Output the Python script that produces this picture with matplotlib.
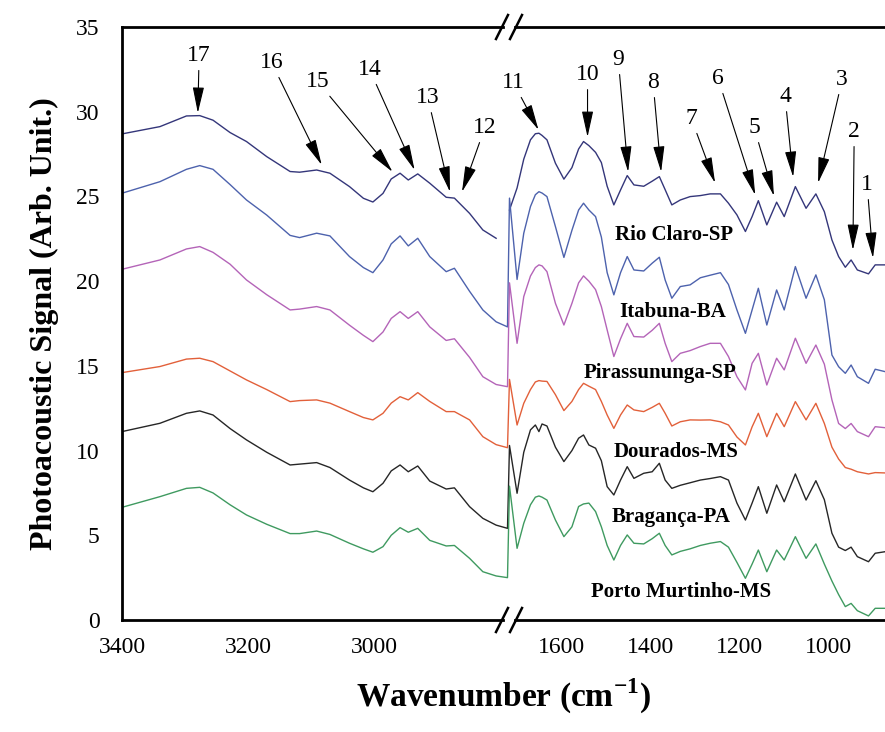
import matplotlib
matplotlib.use("Agg")
import matplotlib.pyplot as plt
import numpy as np
from matplotlib.patches import ArrowStyle

plt.rcParams["font.family"] = "Liberation Serif"
plt.rcParams["mathtext.fontset"] = "custom"
plt.rcParams["mathtext.rm"] = "Liberation Serif"
plt.rcParams["mathtext.bf"] = "Liberation Serif:bold"

# wavenumbers (cm-1): high region, then fingerprint region after the axis break
wn_high = [3400, 3340, 3298, 3277, 3256, 3229, 3203, 3171, 3134, 3119, 3092, 3071, 3040,
           3018, 3003, 2987, 2974, 2960, 2947, 2932, 2913, 2887, 2874, 2850, 2829, 2808, 2790]
wn_low = [1716, 1699, 1684, 1669, 1658, 1650, 1643, 1632, 1613, 1594, 1576, 1561, 1550, 1538,
          1523, 1510, 1497, 1482, 1467, 1452, 1437, 1415, 1396, 1380, 1367, 1352, 1333, 1311,
          1288, 1266, 1243, 1225, 1206, 1187, 1172, 1158, 1139, 1117, 1100, 1075, 1051, 1029,
          1010, 993, 978, 963, 950, 936, 911, 896, 874]

rio_claro_high = [28.69, 29.12, 29.75, 29.77, 29.5, 28.77, 28.24, 27.35, 26.47, 26.43, 26.56, 26.37, 25.58,
                  24.89, 24.67, 25.18, 26.03, 26.37, 25.97, 26.33, 25.78, 24.95, 24.9, 24.0, 23.02, 22.53, np.nan]
rio_claro_low = [24.2, 25.5, 27.2, 28.34, 28.7, 28.73, 28.6, 28.34, 26.96, 26.02, 26.7, 27.8, 28.24, 28.0,
                 27.6, 27.0, 25.6, 24.5, 25.38, 26.23, 25.68, 25.6, 25.9, 26.17, 25.4, 24.5, 24.79, 24.99,
                 25.05, 25.15, 25.15, 24.6, 23.91, 22.93, 23.81, 24.75, 23.32, 24.66, 23.81, 25.58, 24.3, 25.15,
                 24.1, 22.43, 21.45, 20.82, 21.25, 20.66, 20.43, 20.96, 20.96]

itabuna_high = [25.19, 25.87, 26.6, 26.82, 26.6, 25.7, 24.79, 23.9, 22.7, 22.57, 22.83, 22.67, 21.45,
                20.8, 20.5, 21.25, 22.2, 22.67, 22.08, 22.53, 21.45, 20.56, 20.76, 19.4, 18.3, 17.6, 17.3]
itabuna_low = [24.9, 20.1, 22.83, 24.4, 25.1, 25.28, 25.2, 24.99, 23.22, 21.4, 23.0, 24.2, 24.6, 24.2,
               23.81, 22.6, 20.5, 19.19, 20.5, 21.45, 20.66, 20.6, 21.06, 21.41, 20.07, 18.99, 19.68, 19.78,
               20.2, 20.35, 20.5, 19.8, 18.3, 16.92, 18.3, 19.58, 17.41, 19.48, 18.3, 20.86, 18.99, 20.37,
               18.9, 15.64, 14.95, 14.56, 15.05, 14.36, 13.97, 14.8, 14.66]

pirassununga_high = [20.7, 21.25, 21.9, 22.04, 21.7, 21.0, 20.07, 19.2, 18.3, 18.35, 18.5, 18.3, 17.4,
                     16.8, 16.43, 17.0, 17.8, 18.2, 17.8, 18.2, 17.3, 16.5, 16.6, 15.5, 14.36, 13.9, 13.77]
pirassununga_low = [19.9, 16.33, 19.09, 20.3, 20.8, 20.96, 20.9, 20.56, 18.69, 17.41, 18.69, 19.9, 20.31, 20.0,
                    19.5, 18.5, 17.12, 15.55, 16.6, 17.51, 16.73, 16.7, 17.1, 17.51, 16.33, 15.25, 15.74, 15.9,
                    16.14, 16.33, 16.33, 15.55, 14.36, 13.58, 15.15, 15.74, 13.87, 15.45, 14.76, 16.63, 15.15, 16.23,
                    15.1, 12.99, 11.6, 11.3, 11.6, 11.12, 10.82, 11.41, 11.35]

dourados_high = [14.6, 14.96, 15.4, 15.45, 15.25, 14.7, 14.17, 13.6, 12.89, 12.95, 12.99, 12.8, 12.3,
                 11.95, 11.81, 12.2, 12.8, 13.18, 12.99, 13.42, 12.9, 12.3, 12.3, 11.81, 10.82, 10.35, 10.17]
dourados_low = [14.2, 11.51, 12.79, 13.6, 14.05, 14.13, 14.1, 14.08, 13.3, 12.36, 12.9, 13.6, 13.97, 13.8,
                13.6, 12.9, 12.1, 11.31, 12.1, 12.69, 12.4, 12.3, 12.55, 12.79, 12.2, 11.45, 11.7, 11.81,
                11.8, 11.81, 11.7, 11.51, 10.8, 10.33, 11.4, 12.2, 10.82, 12.2, 11.41, 12.89, 11.81, 12.79,
                11.6, 10.2, 9.5, 9.0, 8.9, 8.75, 8.62, 8.7, 8.68]

braganca_high = [11.12, 11.61, 12.2, 12.34, 12.1, 11.3, 10.63, 9.9, 9.15, 9.2, 9.29, 9.0, 8.26,
                 7.8, 7.57, 8.07, 8.8, 9.15, 8.75, 9.09, 8.2, 7.73, 7.8, 6.69, 6.0, 5.6, 5.41]
braganca_low = [10.3, 7.48, 9.9, 11.22, 11.51, 11.12, 11.57, 11.45, 10.2, 9.35, 10.0, 10.73, 10.92, 10.33,
                10.14, 9.4, 7.87, 7.38, 8.26, 9.05, 8.36, 8.66, 8.75, 9.25, 8.26, 7.77, 7.95, 8.1,
                8.26, 8.35, 8.46, 8.26, 6.9, 5.9, 6.9, 7.87, 6.3, 7.97, 6.98, 8.62, 7.08, 8.22,
                7.1, 5.12, 4.3, 4.1, 4.3, 3.74, 3.44, 3.94, 4.03]

murtinho_high = [6.65, 7.28, 7.77, 7.83, 7.5, 6.8, 6.2, 5.65, 5.1, 5.1, 5.25, 5.05, 4.53,
                 4.2, 4.0, 4.33, 5.0, 5.45, 5.18, 5.41, 4.7, 4.37, 4.4, 3.64, 2.85, 2.6, 2.5]
murtinho_low = [7.9, 4.23, 5.71, 6.8, 7.25, 7.32, 7.25, 7.08, 5.9, 4.92, 5.5, 6.7, 6.85, 6.9,
                6.4, 5.5, 4.4, 3.54, 4.4, 5.02, 4.53, 4.49, 4.8, 5.12, 4.4, 3.84, 4.05, 4.2,
                4.4, 4.53, 4.63, 4.3, 3.4, 2.46, 3.3, 4.13, 2.85, 4.13, 3.54, 4.92, 3.64, 4.49,
                3.3, 2.3, 1.5, 0.79, 0.98, 0.55, 0.24, 0.69, 0.69]

samples = ["Rio Claro-SP", "Itabuna-BA", "Pirassununga-SP", "Dourados-MS", "Bragança-PA", "Porto Murtinho-MS"]
colors = ["#34367a", "#4d62ad", "#b464b8", "#e2603a", "#262626", "#3f9a60"]
highs = [rio_claro_high, itabuna_high, pirassununga_high, dourados_high, braganca_high, murtinho_high]
lows = [rio_claro_low, itabuna_low, pirassununga_low, dourados_low, braganca_low, murtinho_low]
label_pos = [(1346, 22.73), (1349, 18.18), (1378, 14.58), (1342, 9.92), (1353, 6.08), (1331, 1.65)]

# band labels: number, arrow tip (wavenumber, signal), text position
bands = [("17", (3280, 29.93), (3278, 33.3)), ("16", (3084, 26.86), (3163, 32.88)),
         ("15", (2972, 26.45), (3090, 31.76)), ("14", (2937, 26.56), (3008, 32.47)),
         ("13", (2881, 25.27), (2916, 30.81)), ("12", (2862, 25.27), (2826, 29.04)),
         ("11", (1651, 28.93), (1707, 31.7)), ("10", (1541, 28.51), (1541, 32.17)),
         ("9", (1450, 26.45), (1472, 33.06)), ("8", (1376, 26.45), (1394, 31.7)),
         ("7", (1255, 25.8), (1308, 29.58)), ("6", (1165, 25.09), (1248, 31.94)),
         ("5", (1123, 25.03), (1167, 29.04)), ("4", (1080, 26.15), (1098, 30.87)),
         ("3", (1024, 25.8), (970, 31.88)), ("2", (946, 21.84), (943, 28.81)),
         ("1", (901, 21.37), (914, 25.68))]

xticks = [3400, 3200, 3000, 1600, 1400, 1200, 1000]


# broken wavenumber axis: 2790-1716 squeezed to almost nothing (increasing map)
def fwd(w):
    return np.interp(w, [0, 874, 1716, 2790, 3400, 6000], [-1154.2, -764.0, -388.0, -386.0, 0.0, 1644.5])


def inv(u):
    return np.interp(u, [-1154.2, -764.0, -388.0, -386.0, 0.0, 1644.5], [0, 874, 1716, 2790, 3400, 6000])


fig = plt.figure(figsize=(8.85, 7.32), dpi=100)
ax = fig.add_axes([122 / 885, 1 - 620 / 732, 763 / 885, 593 / 732])
ax.set_xscale("function", functions=(fwd, inv))

wn = wn_high + wn_low
for name, c, hi, lo, (lx, ly) in zip(samples, colors, highs, lows, label_pos):
    ax.plot(wn, hi + lo, color=c, lw=1.0)
    ax.text(lx, ly, name, ha="center", va="center", fontsize=15, fontweight="bold")

head = ArrowStyle("-|>", head_length=1.0, head_width=0.22)
for num, tip, txt in bands:
    ax.annotate(num, xy=tip, xytext=txt, ha="center", va="center", fontsize=17,
                arrowprops=dict(arrowstyle=head, color="black", lw=0.8, mutation_scale=16,
                                shrinkA=1, shrinkB=0))

ax.set_xlim(3400, 874)
ax.set_ylim(0, 35)
ax.set_xticks(xticks)
ax.set_xticklabels([str(t) for t in xticks])
ax.xaxis.set_minor_locator(matplotlib.ticker.NullLocator())
ax.set_yticks(range(0, 36, 5))
ax.tick_params(length=0, labelsize=17)
ax.tick_params(axis="x", pad=12)
ax.tick_params(axis="y", pad=16)

for s in ["top", "bottom", "right"]:
    ax.spines[s].set_visible(False)
ax.spines["left"].set_linewidth(2)

# axis lines with // break marks
gap_a, gap_b = (503 - 122) / 763, (515 - 122) / 763
dx, dy = 6 / 763, 12 / 593
for yy in (0, 1):
    ax.plot([0, gap_a], [yy, yy], color="black", lw=2, transform=ax.transAxes, clip_on=False)
    ax.plot([gap_b, 1], [yy, yy], color="black", lw=2, transform=ax.transAxes, clip_on=False)
    for cx in ((502 - 122) / 763, (516 - 122) / 763):
        ax.plot([cx - dx, cx + dx], [yy - dy, yy + dy], color="black", lw=1.8,
                transform=ax.transAxes, clip_on=False)

ax.set_xlabel(r"Wavenumber (cm$^{\mathbf{-1}}$)", fontsize=24, fontweight="bold", labelpad=14)
ax.set_ylabel("Photoacoustic Signal (Arb. Unit.)", fontsize=23, fontweight="bold", labelpad=12)

fig.savefig("out.png", dpi=100)
